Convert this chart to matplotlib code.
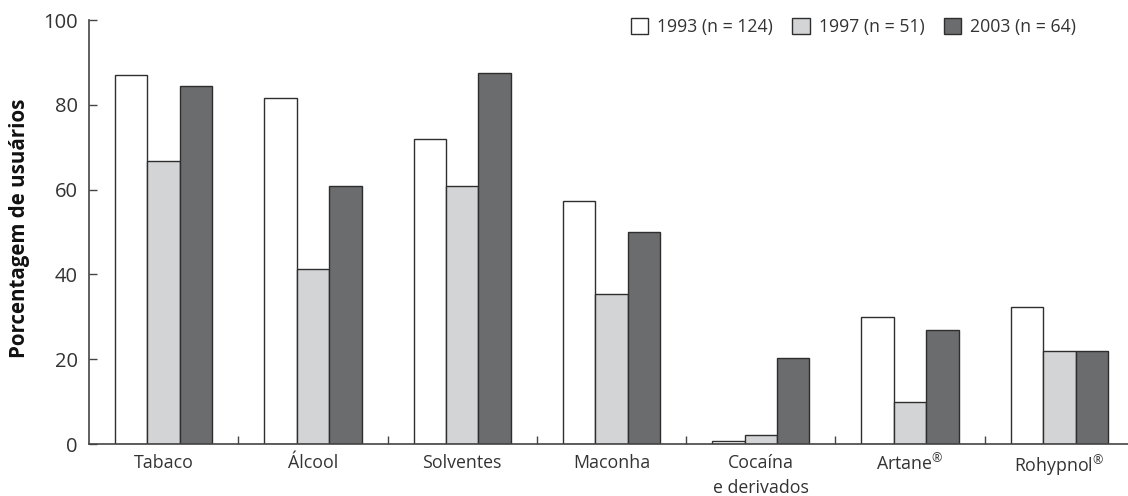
import matplotlib
matplotlib.use("Agg")
import matplotlib.pyplot as plt
import numpy as np
from matplotlib.patches import Patch

plt.rcParams['font.family'] = ['Open Sans', 'DejaVu Sans']
plt.rcParams['mathtext.fontset'] = 'custom'
plt.rcParams['mathtext.rm'] = 'Open Sans'

categories = ["Tabaco", "Álcool", "Solventes", "Maconha", "Cocaína\ne derivados",
              r"Artane$^{\mathrm{®}}$", r"Rohypnol$^{\mathrm{®}}$"]
series_names = ["1993 (n = 124)", "1997 (n = 51)", "2003 (n = 64)"]
v1993 = [87.0, 81.7, 72.0, 57.2, 0.7, 30.0, 32.4]
v1997 = [66.7, 41.3, 60.8, 35.4, 2.2, 9.9, 21.9]
v2003 = [84.4, 60.9, 87.4, 50.0, 20.4, 26.9, 21.9]
colors = ["#ffffff", "#d3d4d6", "#6b6c6e"]
edge = "#2e2e2e"
txt = "#333333"

fig = plt.figure(figsize=(11.28, 4.96), dpi=100)
ax = fig.add_axes([89/1128, 52/496, 1039/1128, 424/496])

x = np.arange(len(categories))
w = 0.217
for i, (vals, c) in enumerate(zip([v1993, v1997, v2003], colors)):
    ax.bar(x + (i - 1) * w, vals, width=w, color=c, edgecolor=edge, linewidth=1.0,
           label=series_names[i], zorder=2)

ax.set_xlim(-0.5, 6.46)
ax.set_ylim(0, 100)
ax.set_yticks([0, 20, 40, 60, 80, 100])
ax.set_xticks(x)
ax.set_xticklabels(categories, fontsize=12.8, color=txt, linespacing=1.55)
ax.set_xticks(np.arange(0.5, 6.0, 1.0), minor=True)
ax.tick_params(axis='x', which='major', length=0, pad=7)
ax.tick_params(axis='x', which='minor', direction='in', length=6, width=1.0, color='#444444')
ax.tick_params(axis='y', direction='in', length=6, width=1.0, color='#444444',
               labelsize=14.5, labelcolor=txt, pad=8)
for s in ['top', 'right']:
    ax.spines[s].set_visible(False)
for s in ['left', 'bottom']:
    ax.spines[s].set_color('#444444')
    ax.spines[s].set_linewidth(1.2)

fig.text(20/1128, 1 - 228/496, "Porcentagem de usuários", rotation=90, fontsize=14.8,
         fontweight='bold', color='#111111', ha='center', va='center')

handles = [Patch(facecolor=c, edgecolor=edge, linewidth=1.0) for c in colors]
leg = ax.legend(handles, series_names, loc='upper right', bbox_to_anchor=(1076/1128, 1 - 18/496),
                bbox_transform=fig.transFigure, ncol=3, frameon=False, fontsize=12.7,
                handlelength=1.0, handleheight=1.0, handletextpad=0.5, columnspacing=1.1,
                borderaxespad=0, borderpad=0)
for t in leg.get_texts():
    t.set_color(txt)

fig.savefig("out.png", dpi=100)
